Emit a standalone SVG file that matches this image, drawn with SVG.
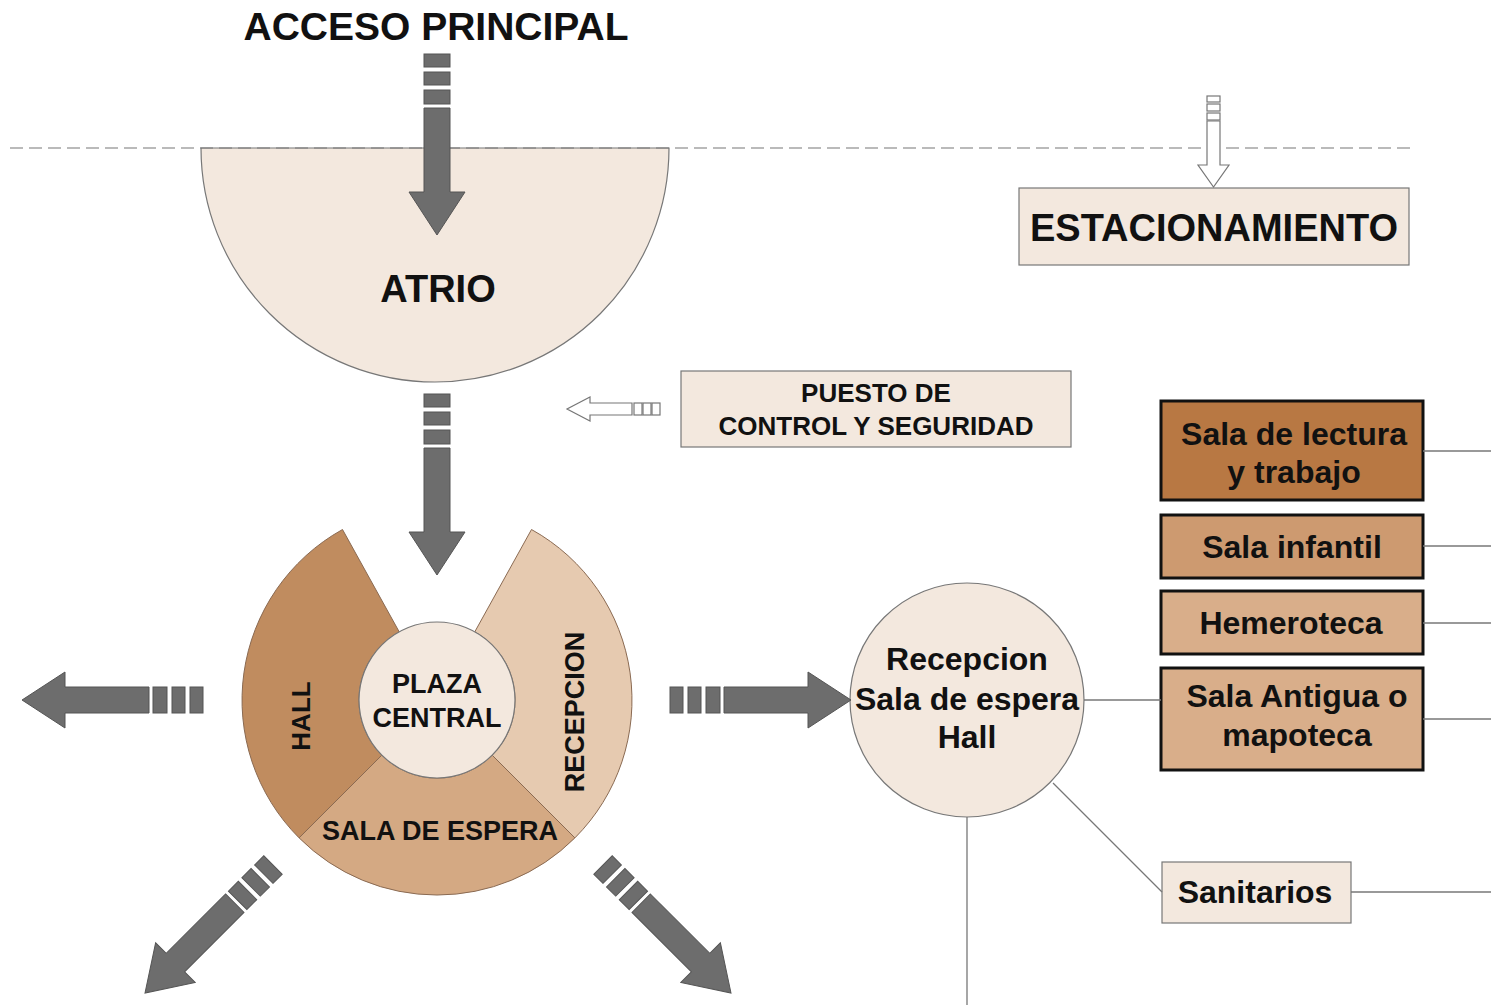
<svg xmlns="http://www.w3.org/2000/svg" xmlns:xlink="http://www.w3.org/1999/xlink" width="1491" height="1005" viewBox="0 0 1491 1005">
<style>
text{font-family:"Liberation Sans",Arial,sans-serif;font-weight:bold;fill:#111;text-anchor:middle}
.cream{fill:#f3e8de;stroke:#777;stroke-width:1.2}
.room{stroke:#111;stroke-width:3}
.seg{stroke:#8a6a52;stroke-width:1}
.garrow{fill:#6d6d6d;stroke:#555;stroke-width:1}
.oarrow{fill:#fff;stroke:#777;stroke-width:1.2}
.conn{stroke:#777;stroke-width:1.3;fill:none}
</style>
<defs>
<g id="bigArrow" class="garrow">
<rect x="0" y="-13" width="13" height="26"/>
<rect x="18" y="-13" width="13" height="26"/>
<rect x="36" y="-13" width="14" height="26"/>
<polygon points="54,-13 138,-13 138,-28 181,0 138,28 138,13 54,13"/>
</g>
</defs>
<rect width="1491" height="1005" fill="#fff"/>

<g id="atrio">
<path class="cream" d="M201,148 A234,234 0 0 0 669,148 Z"/>
<text x="438" y="302" font-size="38">ATRIO</text>
</g>

<line x1="10" y1="148" x2="1412" y2="148" stroke="#777" stroke-width="1.2" stroke-dasharray="13 6"/>

<g id="acceso">
<text x="436" y="40" font-size="39">ACCESO PRINCIPAL</text>
</g>

<g id="estacionamiento">
<rect class="cream" x="1019" y="188" width="390" height="77"/>
<text x="1214" y="241" font-size="38">ESTACIONAMIENTO</text>
</g>

<g id="puesto">
<rect class="cream" x="681" y="371" width="390" height="76"/>
<text x="876" y="402" font-size="26">PUESTO DE</text>
<text x="876" y="435" font-size="26">CONTROL Y SEGURIDAD</text>
</g>

<g id="hall">
<path style="fill:#c08c5f" class="seg" d="M342.5,529.5 A195,195 0 0 0 299.1,837.9 L381.8,755.2 A78,78 0 0 1 399.2,631.8 Z"/>
<text transform="translate(310,716) rotate(-90)" font-size="26">HALL</text>
</g>
<g id="sala-espera">
<path style="fill:#d4a983" class="seg" d="M299.1,837.9 A195,195 0 0 0 574.9,837.9 L492.2,755.2 A78,78 0 0 1 381.8,755.2 Z"/>
<text x="440" y="840" font-size="27">SALA DE ESPERA</text>
</g>
<g id="recepcion">
<path style="fill:#e6cab0" class="seg" d="M574.9,837.9 A195,195 0 0 0 531.5,529.5 L474.8,631.8 A78,78 0 0 1 492.2,755.2 Z"/>
<text transform="translate(584,712) rotate(-90)" font-size="27">RECEPCION</text>
</g>
<g id="plaza-central">
<circle class="cream" cx="437" cy="700" r="78"/>
<text x="437" y="693" font-size="27">PLAZA</text>
<text x="437" y="727" font-size="27">CENTRAL</text>
</g>

<g id="recepcion-hall">
<circle class="cream" cx="967" cy="700" r="117"/>
<text x="967" y="670" font-size="32">Recepcion</text>
<text x="967" y="710" font-size="32">Sala de espera</text>
<text x="967" y="748" font-size="32">Hall</text>
</g>

<g id="sala-lectura">
<rect class="room" style="fill:#b87843" x="1161" y="401" width="262" height="99"/>
<text x="1294" y="445" font-size="32">Sala de lectura</text>
<text x="1294" y="483" font-size="32">y trabajo</text>
</g>
<g id="sala-infantil">
<rect class="room" style="fill:#cd9a70" x="1161" y="515" width="262" height="63"/>
<text x="1292" y="558" font-size="32">Sala infantil</text>
</g>
<g id="hemeroteca">
<rect class="room" style="fill:#d9ae8a" x="1161" y="591" width="262" height="63"/>
<text x="1291" y="634" font-size="32">Hemeroteca</text>
</g>
<g id="sala-antigua">
<rect class="room" style="fill:#d9ae8a" x="1161" y="668" width="262" height="102"/>
<text x="1297" y="707" font-size="32">Sala Antigua o</text>
<text x="1297" y="746" font-size="32">mapoteca</text>
</g>
<g id="sanitarios">
<rect class="cream" x="1162" y="862" width="189" height="61"/>
<text x="1255" y="903" font-size="32">Sanitarios</text>
</g>

<g id="connectors">
<use xlink:href="#bigArrow" transform="translate(437,54) rotate(90)"/>
<use xlink:href="#bigArrow" transform="translate(437,394) rotate(90)"/>
<use xlink:href="#bigArrow" transform="translate(203,700) rotate(180)"/>
<use xlink:href="#bigArrow" transform="translate(670,700)"/>
<use xlink:href="#bigArrow" transform="translate(273,865) rotate(135)"/>
<use xlink:href="#bigArrow" transform="translate(603,865) rotate(45)"/>
<g class="oarrow">
<rect x="1207" y="96" width="13" height="6"/>
<rect x="1207" y="104" width="13" height="7"/>
<rect x="1207" y="113" width="13" height="7"/>
<polygon points="1207,121 1220,121 1220,165 1229,165 1213.5,187 1198,165 1207,165"/>
<rect x="634" y="403" width="8" height="12"/>
<rect x="643" y="403" width="8" height="12"/>
<rect x="652" y="403" width="8" height="12"/>
<polygon points="632,403 590,403 590,397 567,409 590,421 590,415 632,415"/>
</g>
<line class="conn" x1="1084" y1="700" x2="1161" y2="700"/>
<line class="conn" x1="1053" y1="783" x2="1162" y2="892"/>
<line class="conn" x1="967" y1="817" x2="967" y2="1005"/>
<line class="conn" x1="1423" y1="451" x2="1491" y2="451"/>
<line class="conn" x1="1423" y1="546" x2="1491" y2="546"/>
<line class="conn" x1="1423" y1="623" x2="1491" y2="623"/>
<line class="conn" x1="1423" y1="719" x2="1491" y2="719"/>
<line class="conn" x1="1351" y1="892" x2="1491" y2="892"/>
</g>
</svg>
